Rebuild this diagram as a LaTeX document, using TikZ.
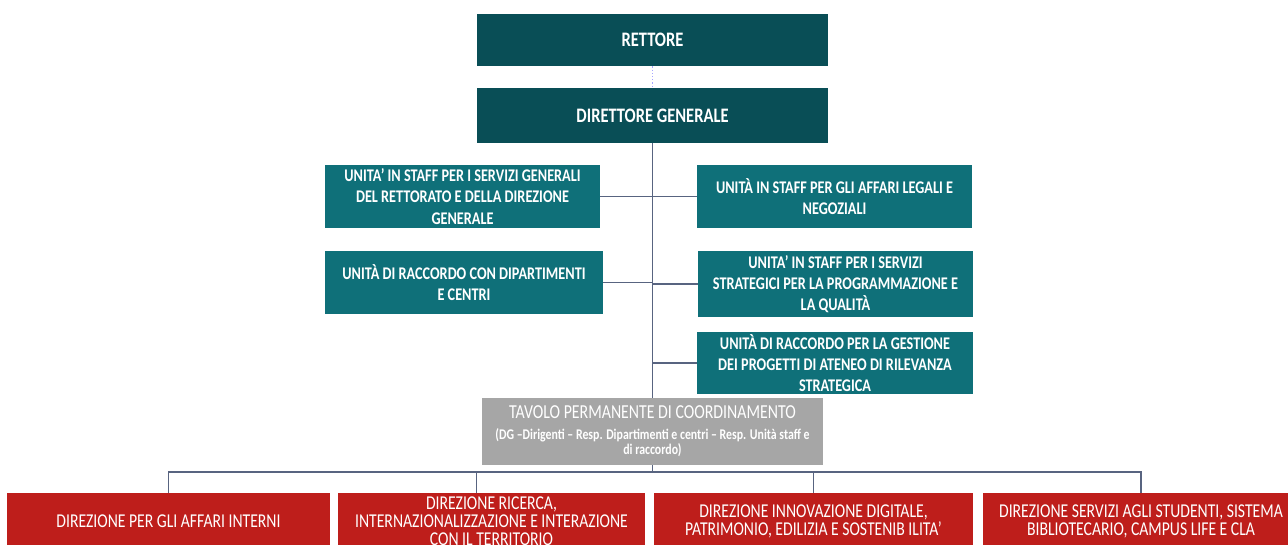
\documentclass[tikz,border=0pt]{standalone}
\usepackage{fontspec}
\setmainfont{Carlito}[FakeStretch=0.8]
\usetikzlibrary{positioning}
\definecolor{petrol}{RGB}{9,78,86}
\definecolor{lagoon}{RGB}{15,112,121}
\definecolor{ash}{RGB}{166,166,166}
\definecolor{crimson}{RGB}{190,30,27}
\definecolor{slate}{RGB}{88,100,128}
\newcommand{\comma}{,}

\begin{document}
\begin{tikzpicture}[x=0.5pt,y=-0.5pt,
    head/.style={fill=petrol,text=white,font=\bfseries\fontsize{10.3}{12}\selectfont,minimum width=175.5pt,inner sep=0pt},
    unit/.style={fill=lagoon,text=white,font=\bfseries\fontsize{8.9}{10.6}\selectfont,align=center,inner sep=0pt},
    dir/.style={fill=crimson,text=white,font=\fontsize{9.8}{9}\selectfont,align=center,minimum height=28pt,inner sep=0pt},
    link/.style={draw=slate,line width=0.7pt}]
    \clip (0,0) rectangle (1288,545);

    % vertici
    \node[head,minimum height=26pt] (rett) at (652.5,40) {RETTORE};
    \node[head,minimum height=27.5pt] (dg) at (652.5,115.5) {DIRETTORE GENERALE};

    % unita in staff e di raccordo
    \node[unit,minimum width=137.5pt,minimum height=31.5pt] (u1) at (462.5,196.5) {UNITA’ IN STAFF PER I SERVIZI GENERALI\\DEL RETTORATO E DELLA DIREZIONE\\GENERALE};
    \node[unit,minimum width=137.5pt,minimum height=31.5pt] (u2) at (834.5,196.5) {UNITÀ IN STAFF PER GLI AFFARI LEGALI E\\NEGOZIALI};
    \node[unit,minimum width=139pt,minimum height=31.5pt] (u3) at (464,282.5) {UNITÀ DI RACCORDO CON DIPARTIMENTI\\E CENTRI};
    \node[unit,minimum width=137.5pt,minimum height=33pt] (u4) at (835.5,284) {UNITA’ IN STAFF PER I SERVIZI\\STRATEGICI PER LA PROGRAMMAZIONE E\\LA QUALITÀ};
    \node[unit,minimum width=138pt,minimum height=31pt] (u5) at (835,363) {UNITÀ DI RACCORDO PER LA GESTIONE\\DEI PROGETTI DI ATENEO DI RILEVANZA\\STRATEGICA};

    \node[fill=ash,text=white,align=center,inner sep=0pt,minimum width=170.5pt,minimum height=33.5pt,
      font=\bfseries\fontsize{7.4}{7.5}\selectfont] (tav) at (652.5,431.5)
      {{\mdseries\fontsize{9.9}{10}\selectfont TAVOLO PERMANENTE DI COORDINAMENTO}\\[3pt]
       (DG –Dirigenti – Resp. Dipartimenti e centri – Resp. Unità staff e\\di raccordo)};

    % direzioni
    \foreach \n/\x/\w/\t in {
      d1/168.5/161.5pt/DIREZIONE PER GLI AFFARI INTERNI,
      d2/491.5/153.5pt/DIREZIONE RICERCA\comma\\INTERNAZIONALIZZAZIONE E INTERAZIONE\\CON IL TERRITORIO,
      d3/813.5/159.5pt/DIREZIONE INNOVAZIONE DIGITALE\comma\\PATRIMONIO\comma{} EDILIZIA E SOSTENIB ILITA’,
      d4/1141/158pt/DIREZIONE SERVIZI AGLI STUDENTI\comma{} SISTEMA\\BIBLIOTECARIO\comma{} CAMPUS LIFE E CLA}
    {
      \node[dir,minimum width=\w] (\n) at (\x,521) {\t};
    }

    % collegamenti
    \draw[draw=blue!35,densely dotted,line width=0.6pt] (rett) -- (dg);
    \draw[link] (dg) -- (tav);
    \foreach \u in {u1,u2,u3,u4,u5}
      \draw[link] (\u) -- (\u -| dg);
    \coordinate (bus) at (652.5,472);
    \draw[link] (tav) -- (bus);
    \draw[link] (d1.north) |- (bus) -| (d4.north);
    \draw[link] ([xshift=-7.5pt]d2.north) -- ([xshift=-7.5pt]d2.north |- bus);
    \draw[link] (d3.north) -- (d3.north |- bus);
\end{tikzpicture}
\end{document}
